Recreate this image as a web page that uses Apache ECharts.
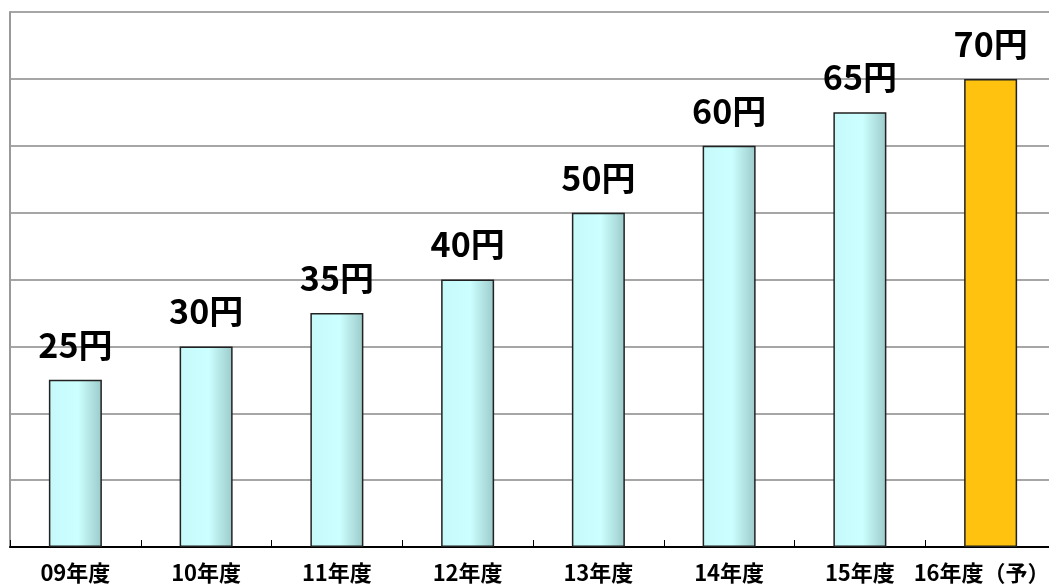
<!DOCTYPE html>
<html><head><meta charset="utf-8">
<script src="https://cdn.jsdelivr.net/npm/echarts@6/dist/echarts.min.js"></script>
<style>html,body{margin:0;padding:0;background:#fff}#c{width:1049px;height:584px}</style>
</head><body><div id="c"></div>
<script>
var categories = ['09年度','10年度','11年度','12年度','13年度','14年度','15年度','16年度（予）'];
var values = [25,30,35,40,50,60,65,70];
var yTicks = [0,10,20,30,40,50,60,70,80];

var chart = echarts.init(document.getElementById('c'));
var cyan = new echarts.graphic.LinearGradient(0,0,1,0,[
  {offset:0,color:'#c6fafa'},{offset:0.55,color:'#ccffff'},{offset:1,color:'#9ccaca'}]);
var data = values.map(function(v,i){
  return {value:v, itemStyle: i===values.length-1 ? {color:'#ffc20e'} : {color:cyan}};
});
var catData = categories.map(function(c,i){
  return i===categories.length-1 ? {value:c, textStyle:{padding:[0,18,0,0]}} : c;
});
chart.setOption({
  animation:false,
  grid:{left:10,width:1046,top:12,bottom:37,containLabel:false,outerBoundsMode:'none'},
  xAxis:{type:'category',data:catData,
    axisLine:{lineStyle:{color:'#000',width:2}},
    axisTick:{show:true,inside:true,length:7,interval:0,lineStyle:{color:'#000',width:1}},
    axisLabel:{interval:0,color:'#000',fontSize:22,fontWeight:'bold',fontFamily:'Noto Sans CJK JP',margin:15}},
  yAxis:{type:'value',min:yTicks[0],max:yTicks[yTicks.length-1],interval:10,
    axisLine:{show:true,lineStyle:{color:'#999',width:2}},
    axisTick:{show:false},axisLabel:{show:false},
    splitLine:{lineStyle:{color:'#a6a6a6',width:2}}},
  series:[{type:'bar',data:data,barWidth:53,
    itemStyle:{borderColor:'#222',borderWidth:1.5},
    label:{show:true,position:'top',distance:18,formatter:'{c}円',color:'#000',
      fontSize:34,fontWeight:'bold',fontFamily:'Noto Sans CJK JP'}}]
});
</script></body></html>
